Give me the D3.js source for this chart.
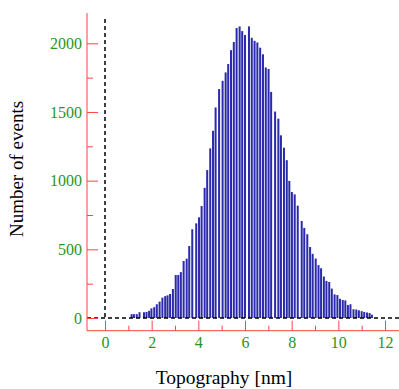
<!DOCTYPE html>
<html>
<head>
<meta charset="utf-8">
<script src="https://cdn.jsdelivr.net/npm/d3@7"></script>
<style>
  body { margin: 0; background: #fff; }
  text { font-family: "Liberation Serif", "Times New Roman", serif; }
</style>
</head>
<body>
<div id="chart"></div>
<script>
// histogram bins (nm) and counts
const binCenters = [
  1.14, 1.24, 1.36, 1.48, 1.67, 1.78, 1.89, 1.99, 2.11, 2.22,
  2.34, 2.46, 2.58, 2.68, 2.79, 2.91, 3.03, 3.14, 3.25, 3.37,
  3.50, 3.61, 3.74, 3.91, 4.03, 4.14, 4.27, 4.38, 4.51, 4.63,
  4.74, 4.89, 5.04, 5.17, 5.28, 5.40, 5.52, 5.64, 5.77, 5.88,
  6.00, 6.17, 6.29, 6.41, 6.53, 6.65, 6.77, 6.89, 7.01, 7.12,
  7.29, 7.43, 7.54, 7.67, 7.79, 7.90, 8.01, 8.13, 8.26, 8.43,
  8.54, 8.67, 8.79, 8.90, 9.03, 9.15, 9.26, 9.38, 9.49, 9.61,
  9.72, 9.84, 9.96, 10.07, 10.19, 10.30, 10.41, 10.52, 10.65, 10.77,
  10.88, 11.00, 11.11, 11.23, 11.34, 11.44
];
const counts = [
  28, 28, 28, 42, 42, 44, 52, 70, 79, 100,
  119, 148, 159, 165, 175, 211, 313, 313, 334, 415,
  432, 524, 646, 689, 733, 815, 948, 1077, 1235, 1363,
  1533, 1667, 1727, 1788, 1849, 1950, 2009, 2111, 2123, 2089,
  2060, 2123, 2040, 2018, 2006, 1968, 1920, 1824, 1813, 1646,
  1503, 1451, 1330, 1240, 1149, 998, 917, 900, 818, 706,
  656, 610, 517, 467, 433, 385, 362, 302, 270, 262,
  214, 172, 167, 140, 131, 128, 94, 100, 64, 62,
  56, 50, 44, 40, 36, 24
];
const xTicks = [0, 2, 4, 6, 8, 10, 12];
const xMinorTicks = [1, 3, 5, 7, 9, 11];
const yTicks = [0, 500, 1000, 1500, 2000];
const yMinorTicks = [250, 750, 1250, 1750];

const W = 399, H = 389;
const axisRed = '#ff4444', labelGreen = '#2a9424', barBlue = '#2a2aaa';

const svg = d3.select('#chart').append('svg')
  .attr('width', W).attr('height', H);

const x = d3.scaleLinear().domain([0, 12]).range([105, 385]);
const y = d3.scaleLinear().domain([0, 2000]).range([318, 43.3]);

const axisX = 87, axisY = 330.7;

// bars
svg.selectAll('.bar')
  .data(binCenters)
  .enter()
  .append('rect')
  .attr('class', 'bar')
  .attr('x', (d) => x(d) - 1)
  .attr('width', 2)
  .attr('y', (d, i) => y(counts[i]))
  .attr('height', (d, i) => y(0) - y(counts[i]))
  .style('fill', barBlue);

// dashed zero lines
svg.append('line')
  .attr('x1', axisX).attr('x2', W)
  .attr('y1', y(0)).attr('y2', y(0))
  .attr('stroke', '#000').attr('stroke-width', 1.5)
  .attr('stroke-dasharray', '4,3');
svg.append('line')
  .attr('x1', x(0)).attr('x2', x(0))
  .attr('y1', 19).attr('y2', y(0))
  .attr('stroke', '#000').attr('stroke-width', 1.5)
  .attr('stroke-dasharray', '4,3');

// x axis
const gx = svg.append('g').attr('transform', 'translate(0,' + axisY + ')');
gx.call(d3.axisBottom(x).tickValues(xTicks).tickFormat(d3.format('d'))
  .tickSize(-10).tickSizeOuter(0).tickPadding(6));
gx.append('g').call(d3.axisBottom(x).tickValues(xMinorTicks).tickSize(-5).tickFormat(''));
gx.selectAll('.domain').remove();
gx.selectAll('line').attr('stroke', axisRed);
gx.selectAll('text')
  .style('font-size', '16px')
  .style('font-family', '"Liberation Serif", serif')
  .attr('fill', labelGreen);
svg.append('line')
  .attr('x1', axisX).attr('x2', W)
  .attr('y1', axisY).attr('y2', axisY)
  .attr('stroke', axisRed).attr('stroke-width', 1);

// y axis
const gy = svg.append('g').attr('transform', 'translate(' + axisX + ',0)');
gy.call(d3.axisLeft(y).tickValues(yTicks).tickFormat(d3.format('d'))
  .tickSize(-11).tickSizeOuter(0).tickPadding(5));
gy.append('g').call(d3.axisLeft(y).tickValues(yMinorTicks).tickSize(-6).tickFormat(''));
gy.selectAll('.domain').remove();
gy.selectAll('line').attr('stroke', axisRed);
gy.selectAll('text')
  .style('font-size', '16px')
  .style('font-family', '"Liberation Serif", serif')
  .attr('fill', labelGreen);
svg.append('line')
  .attr('x1', axisX).attr('x2', axisX)
  .attr('y1', 13).attr('y2', axisY)
  .attr('stroke', axisRed).attr('stroke-width', 1);

// axis titles
svg.append('text')
  .attr('x', 224).attr('y', 384)
  .attr('text-anchor', 'middle')
  .style('font-size', '19.5px')
  .text('Topography [nm]');
svg.append('text')
  .attr('transform', 'translate(23,169) rotate(-90)')
  .attr('text-anchor', 'middle')
  .style('font-size', '19px')
  .text('Number of events');
</script>
</body>
</html>
